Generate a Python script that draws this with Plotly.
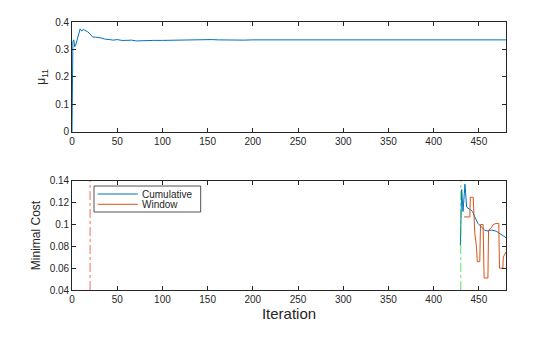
import plotly.graph_objects as go
from plotly.subplots import make_subplots

# Top panel: mu_11 vs iteration
mu_x = [0, 1, 2, 3, 4, 5, 6, 7, 8, 9, 10, 11, 12, 13, 14, 15, 17, 19, 21, 23, 26, 29, 32, 36, 41, 46, 50, 55, 60, 66, 71, 77, 83, 90, 100, 110, 120, 130, 139, 147, 154, 162, 170, 177, 190, 200, 215, 230, 250, 270, 290, 310, 330, 350, 370, 390, 410, 430, 450, 465, 480]
mu_y = [0.0, 0.33, 0.335, 0.31, 0.315, 0.326, 0.34, 0.357, 0.368, 0.375, 0.37, 0.367, 0.372, 0.373, 0.37, 0.369, 0.365, 0.36, 0.352, 0.345, 0.345, 0.344, 0.342, 0.338, 0.335, 0.334, 0.336, 0.333, 0.333, 0.334, 0.331, 0.332, 0.332, 0.333, 0.333, 0.334, 0.335, 0.336, 0.336, 0.336, 0.336, 0.335, 0.334, 0.333, 0.334, 0.335, 0.335, 0.336, 0.335, 0.336, 0.335, 0.336, 0.335, 0.335, 0.336, 0.335, 0.335, 0.335, 0.335, 0.335, 0.335]

# Bottom panel: minimal cost
cum_x = [429.5, 431, 432.5, 433.5, 434.6, 436.5, 438, 440, 443, 445.5, 449, 452.6, 456.3, 460, 463.7, 469, 474.5, 480]
cum_y = [0.081, 0.132, 0.112, 0.125, 0.137, 0.116, 0.115, 0.114, 0.112, 0.107, 0.101, 0.098, 0.095, 0.094, 0.095, 0.094, 0.091, 0.088]

win_x = [433.7, 440, 440.5, 443.7, 445.5, 447.3, 448.3, 451, 451.8, 454.7, 455.8, 460, 460.7, 463.7, 466, 469, 472, 472.8, 476.5, 477, 480]
win_y = [0.107, 0.107, 0.125, 0.125, 0.092, 0.08, 0.066, 0.066, 0.1, 0.1, 0.051, 0.051, 0.095, 0.097, 0.1, 0.101, 0.101, 0.06, 0.06, 0.07, 0.075]

series_names = ["Cumulative", "Window"]
vlines = [(20, "rgb(255,0,0)"), (430, "rgb(0,200,0)")]

blue = "#0072BD"
orange = "#D95319"
ink = "#262626"
font_family = "Liberation Sans, Arial"

fig = make_subplots(rows=2, cols=1, vertical_spacing=0.0)

fig.add_trace(go.Scatter(x=mu_x, y=mu_y, mode="lines", line=dict(color=blue, width=1), showlegend=False), row=1, col=1)
fig.add_trace(go.Scatter(x=cum_x, y=cum_y, mode="lines", line=dict(color=blue, width=1), name=series_names[0], showlegend=False), row=2, col=1)
fig.add_trace(go.Scatter(x=win_x, y=win_y, mode="lines", line=dict(color=orange, width=1), name=series_names[1], showlegend=False), row=2, col=1)

for xv, col in vlines:
    fig.add_shape(type="line", x0=xv, x1=xv, y0=0, y1=1, xref="x2", yref="y2 domain",
                  line=dict(color=col, width=0.6, dash="dashdot"))

# Compact MATLAB-style legend drawn in paper coordinates
fig.add_shape(type="rect", xref="paper", yref="paper", x0=0.0507, x1=0.2965, y0=0.291, y1=0.388,
              line=dict(color=ink, width=0.8), fillcolor="white", layer="above")
for i, (nm, col) in enumerate(zip(series_names, [blue, orange])):
    yy = 0.3582 - i * 0.0384
    fig.add_shape(type="line", xref="paper", yref="paper", x0=0.0592, x1=0.1514, y0=yy, y1=yy,
                  line=dict(color=col, width=1), layer="above")
    fig.add_annotation(xref="paper", yref="paper", x=0.157, y=yy, text=nm, showarrow=False,
                       xanchor="left", yanchor="middle",
                       font=dict(family=font_family, size=10, color=ink))

axis_common = dict(showline=True, linecolor=ink, linewidth=0.8, mirror="ticks", ticks="inside",
                   ticklen=4, tickcolor=ink, tickwidth=0.8, showgrid=False, zeroline=False,
                   tickfont=dict(family=font_family, size=10, color=ink))

fig.update_xaxes(range=[0, 480], tickvals=list(range(0, 481, 50)), **axis_common)
fig.update_yaxes(**axis_common)

fig.update_layout(
    xaxis=dict(domain=[0, 1], anchor="y"),
    xaxis2=dict(domain=[0, 1], anchor="y2",
                title=dict(text="Iteration", font=dict(family=font_family, size=15, color=ink), standoff=4)),
    yaxis=dict(domain=[0.59, 1.0], range=[0, 0.4], tickvals=[0, 0.1, 0.2, 0.3, 0.4],
               ticktext=["0", "0.1", "0.2", "0.3", "0.4"],
               title=dict(text="μ<sub>11</sub>", font=dict(family=font_family, size=12, color=ink), standoff=6)),
    yaxis2=dict(domain=[0.0, 0.407], range=[0.04, 0.14], tickvals=[0.04, 0.06, 0.08, 0.1, 0.12, 0.14],
                ticktext=["0.04", "0.06", "0.08", "0.1", "0.12", "0.14"],
                title=dict(text="Minimal Cost", font=dict(family=font_family, size=12, color=ink), standoff=6)),
    width=560, height=337,
    margin=dict(l=72, r=54, t=22, b=47),
    paper_bgcolor="white", plot_bgcolor="white",
    showlegend=False,
)

fig.write_html("out.html")
